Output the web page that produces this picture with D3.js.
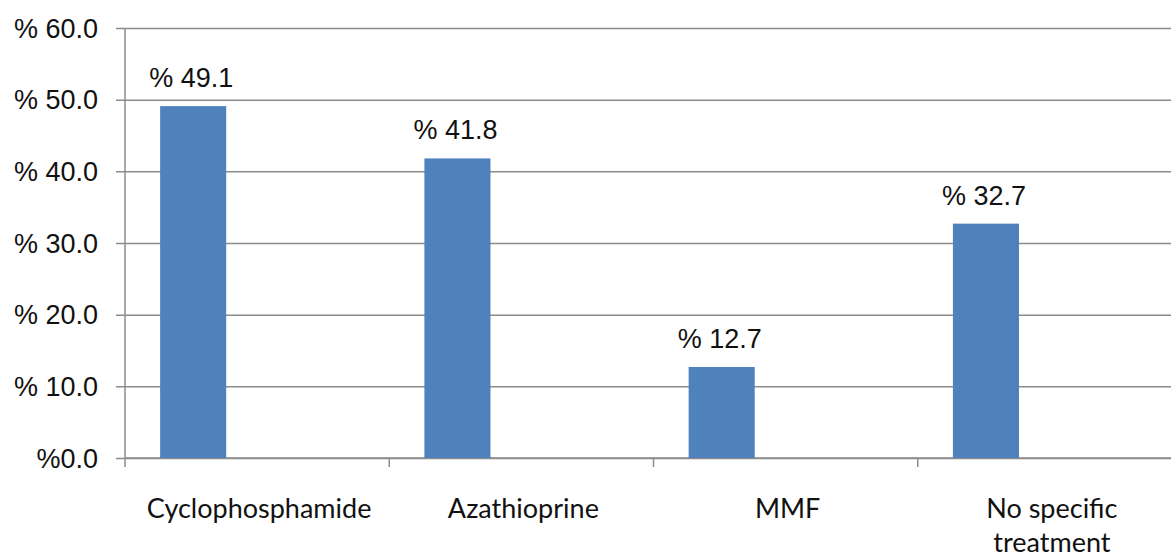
<!DOCTYPE html>
<meta charset="utf-8">
<script src="https://d3js.org/d3.v7.min.js"></script>
<style>
  body { margin: 0; background: #fff; }
</style>
<div id="chart"></div>
<script>

// data
var categories = ["Cyclophosphamide", "Azathioprine", "MMF", "No specific treatment"];
var values = [49.1, 41.8, 12.7, 32.7];
var valueLabels = ["% 49.1", "% 41.8", "% 12.7", "% 32.7"];
var yTicks = [0, 10, 20, 30, 40, 50, 60];
var yTickLabels = ["%0.0", "% 10.0", "% 20.0", "% 30.0", "% 40.0", "% 50.0", "% 60.0"];

var W = 1171, H = 557;
var mLeft = 125, mRight = 1182, mTop = 28, mBottom = 458;

var svg = d3.select("#chart")
  .append("svg")
    .attr("width", W)
    .attr("height", H);

var x = d3.scaleBand()
    .domain(categories)
    .range([mLeft, mRight]);

var y = d3.scaleLinear()
    .domain([0, 60])
    .range([mBottom, mTop]);

var grid = "#8c8c8c";

// horizontal gridlines + little ticks left of the axis
svg.append("g")
    .attr("transform", "translate(" + mLeft + ",0)")
    .call(d3.axisLeft(y).tickValues(yTicks).tickSize(-(W - mLeft)).tickSizeOuter(0).tickFormat(""))
    .call(function(g) {
      g.select(".domain").remove();
      g.selectAll(".tick line").attr("stroke", grid).attr("stroke-width", 1.5).attr("x1", -9);
    });

// y tick labels
svg.append("g")
  .selectAll("text")
  .data(yTicks)
  .enter()
  .append("text")
    .attr("x", 98)
    .attr("y", function(d) { return y(d); })
    .attr("dy", "0.36em")
    .attr("text-anchor", "end")
    .style("font-family", "'Liberation Sans', Arial, sans-serif")
    .style("font-size", "27px")
    .style("fill", "#111")
    .text(function(d, i) { return yTickLabels[i]; });

// y axis line
svg.append("line")
    .attr("x1", mLeft).attr("x2", mLeft)
    .attr("y1", mTop).attr("y2", mBottom)
    .attr("stroke", grid).attr("stroke-width", 1.5);

// x axis with ticks at band boundaries
svg.append("g")
    .attr("transform", "translate(0," + mBottom + ")")
    .call(function(g) {
      g.append("line")
        .attr("x1", mLeft).attr("x2", W)
        .attr("stroke", grid).attr("stroke-width", 1.5);
      g.selectAll(".bt")
        .data(categories)
        .enter()
        .append("line")
          .attr("x1", function(d) { return x(d); })
          .attr("x2", function(d) { return x(d); })
          .attr("y1", 0).attr("y2", 9)
          .attr("stroke", grid).attr("stroke-width", 1.5);
    });

// bars sit in the left part of each band (empty second series in the source)
var bw = x.bandwidth() * 0.25;
var boff = x.bandwidth() * 0.133;

svg.selectAll(".bar")
  .data(values)
  .enter()
  .append("rect")
    .attr("x", function(d, i) { return x(categories[i]) + boff; })
    .attr("y", function(d) { return y(d); })
    .attr("width", bw)
    .attr("height", function(d) { return mBottom - y(d); })
    .style("fill", "#4f81bd");

// value labels
svg.selectAll(".vl")
  .data(values)
  .enter()
  .append("text")
    .attr("x", function(d, i) { return x(categories[i]) + boff + bw / 2 - 2; })
    .attr("y", function(d) { return y(d) - 19; })
    .attr("text-anchor", "middle")
    .style("font-family", "'Liberation Sans', Arial, sans-serif")
    .style("font-size", "27px")
    .style("fill", "#111")
    .text(function(d, i) { return valueLabels[i]; });

// category labels, wrapped like the source
var catLines = { "No specific treatment": ["No specific", "treatment"] };
svg.selectAll(".cl")
  .data(categories)
  .enter()
  .append("text")
    .attr("x", function(d) { return x(d) + x.bandwidth() / 2 + 2; })
    .attr("y", 518)
    .attr("text-anchor", "middle")
    .style("font-family", "Lato, 'Open Sans', sans-serif")
    .style("font-size", "27px")
    .style("fill", "#111")
    .each(function(d) {
      var lines = catLines[d] || [d];
      var t = d3.select(this);
      lines.forEach(function(l, i) {
        t.append("tspan")
          .attr("x", t.attr("x"))
          .attr("dy", i === 0 ? 0 : 34)
          .text(l);
      });
    });
</script>
